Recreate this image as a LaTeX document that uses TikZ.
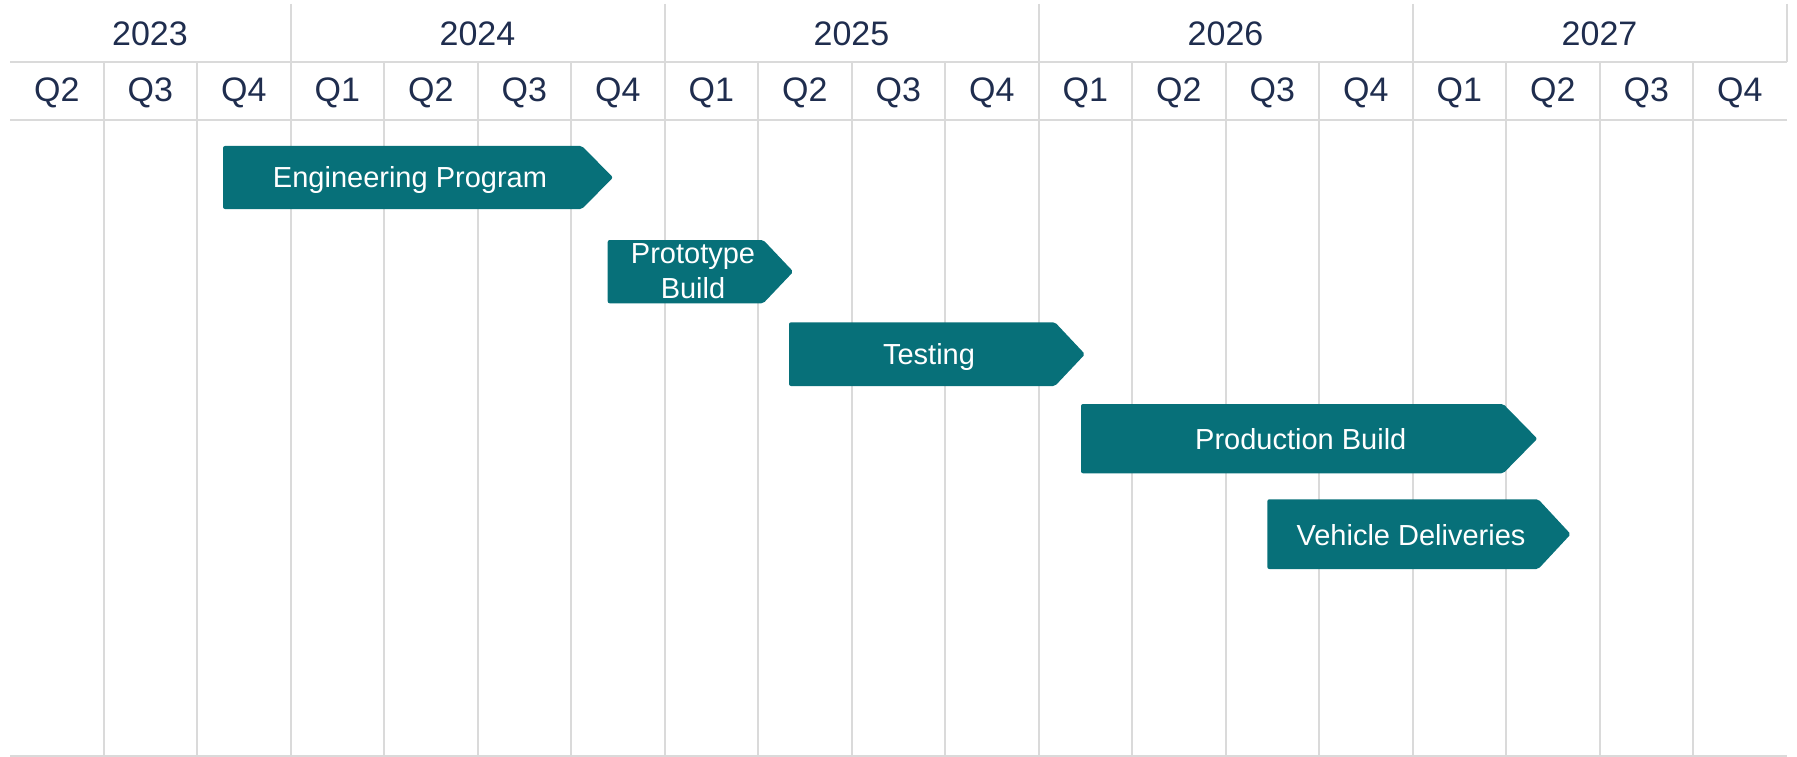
\documentclass[tikz,border=0pt]{standalone}
\usepackage{fontspec}
\setmainfont{Liberation Sans}
\definecolor{gridgray}{RGB}{218,218,218}
\definecolor{barteal}{RGB}{7,112,121}
\definecolor{navy}{RGB}{31,45,78}
\begin{document}
\begin{tikzpicture}[x=1pt,y=-1pt,
  grid/.style={draw=gridgray,line width=2pt},
  hdr/.style={text=navy,font=\fontsize{34}{40}\selectfont,anchor=base,inner sep=0pt},
  barshape/.style={fill=barteal,rounded corners=2pt},
  bartext/.style={text=white,font=\fontsize{29}{34.7}\selectfont,inner sep=0pt,align=center}]
\useasboundingbox (0,0) rectangle (1797,757);
% grid
\foreach \k in {1,...,18} \draw[grid] ({10+93.5*\k},62) -- ({10+93.5*\k},756);
\foreach \k in {3,7,11,15,19} \draw[grid] ({10+93.5*\k},4) -- ({10+93.5*\k},62);
\draw[grid] (10,62) -- (1786.5,62);
\draw[grid] (10,120) -- (1786.5,120);
\draw[grid] (10,756) -- (1786.5,756);
% years
\node[hdr] (y2023) at (150,46) {2023};
\node[hdr] (y2024) at (477.5,46) {2024};
\node[hdr] (y2025) at (851.5,46) {2025};
\node[hdr] (y2026) at (1225.5,46) {2026};
\node[hdr] (y2027) at (1599.5,46) {2027};
% quarters
\foreach \q [count=\i from 0] in {Q2,Q3,Q4,Q1,Q2,Q3,Q4,Q1,Q2,Q3,Q4,Q1,Q2,Q3,Q4,Q1,Q2,Q3,Q4}
  \node[hdr] (q\i) at ({56.75+93.5*\i},102) {\q};
% bars
\fill[barshape] (223,146) -- (582,146) -- (613,177.5) -- (582,209) -- (223,209) -- cycle;
\node[bartext,anchor=base] (eng) at (410,188) {Engineering Program};
\fill[barshape] (607.7,240) -- (763.3,240) -- (793.3,271.7) -- (763.3,303.3) -- (607.7,303.3) -- cycle;
\node[bartext] (proto) at (693,271.5) {Prototype\\Build};
\fill[barshape] (789,322.3) -- (1055,322.3) -- (1085,354.2) -- (1055,386) -- (789,386) -- cycle;
\node[bartext,anchor=base] (test) at (929,364.8) {Testing};
\fill[barshape] (1081,404) -- (1503.3,404) -- (1537.3,438.7) -- (1503.3,473.3) -- (1081,473.3) -- cycle;
\node[bartext,anchor=base] (prod) at (1300.8,449.5) {Production Build};
\fill[barshape] (1267.3,499.3) -- (1538.3,499.3) -- (1570.7,534.2) -- (1538.3,569) -- (1267.3,569) -- cycle;
\node[bartext,anchor=base] (deliv) at (1411,545) {Vehicle Deliveries};
\end{tikzpicture}
\end{document}
